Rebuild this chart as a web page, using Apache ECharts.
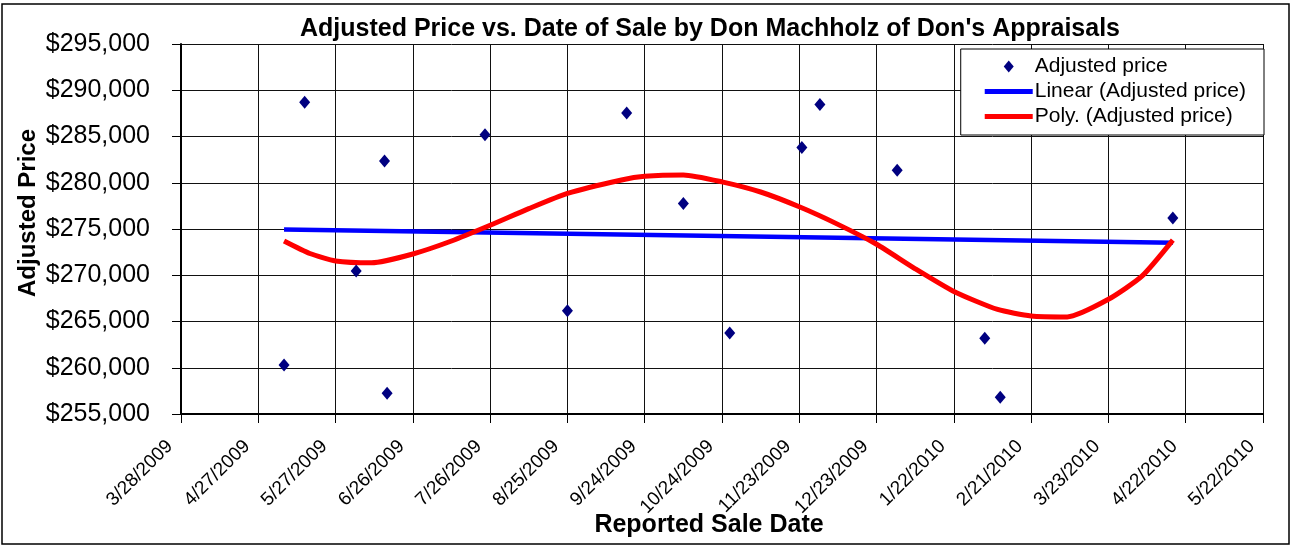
<!DOCTYPE html>
<html>
<head>
<meta charset="utf-8">
<title>Adjusted Price vs. Date of Sale</title>
<script src="https://cdn.jsdelivr.net/npm/echarts@6/dist/echarts.min.js"></script>
<style>
  html, body { margin: 0; padding: 0; background: #fff; }
  #chart { width: 1292px; height: 546px; }
</style>
</head>
<body>
<div id="chart"></div>
<script>
// sales
var saleDates = ['2009-05-07', '2009-05-15', '2009-06-04', '2009-06-15', '2009-06-16', '2009-07-24',
  '2009-08-25', '2009-09-17', '2009-10-09', '2009-10-27', '2009-11-24', '2009-12-01',
  '2009-12-31', '2010-02-03', '2010-02-09', '2010-04-17'];
var adjustedPrices = [260300, 288700, 270450, 282350, 257250, 285200,
  266150, 287550, 277750, 263750, 283800, 288450,
  281350, 263200, 256800, 276200];

// excel trendlines
var linearDates = ['2009-05-07', '2010-04-17'];
var linearValues = [274950, 273520];
var polyDates = ['2009-05-07', '2009-05-17', '2009-05-27', '2009-06-10', '2009-06-26', '2009-07-11',
  '2009-07-26', '2009-08-10', '2009-08-25', '2009-09-15', '2009-09-24', '2009-10-09',
  '2009-10-24', '2009-11-08', '2009-11-23', '2009-12-08', '2009-12-23', '2010-01-07',
  '2010-01-22', '2010-02-08', '2010-02-21', '2010-03-07', '2010-03-23', '2010-04-05', '2010-04-17'];
var polyValues = [273700, 272350, 271550, 271350, 272300, 273700,
  275400, 277200, 278850, 280300, 280700, 280850,
  280100, 279000, 277400, 275500, 273350, 270700,
  268250, 266300, 265600, 265500, 267400, 269900, 273800];

// axes
var dateAxisStart = '2009-03-28';
var dateAxisEnd = '2010-05-22';
var dateTickDays = 30;
var priceMin = 255000, priceMax = 295000, priceStep = 5000;

var FONT = '"Liberation Sans", Arial, sans-serif';
var EXCEL_EPOCH = Date.UTC(1899, 11, 30);

// excel style day number, so 30 day ticks land on 3/28/2009
function toSerial(s) {
  var p = s.split('-');
  return Math.round((Date.UTC(+p[0], p[1] - 1, +p[2]) - EXCEL_EPOCH) / 86400000);
}
function serialLabel(v) {
  var d = new Date(EXCEL_EPOCH + v * 86400000);
  return (d.getUTCMonth() + 1) + '/' + d.getUTCDate() + '/' + d.getUTCFullYear();
}
function pairs(dates, vals) {
  return dates.map(function(d, i) { return [toSerial(d), vals[i]]; });
}

var lineIcon = 'path://M0,0 L48,0 L48,5 L0,5 Z';
var diamondIcon = 'path://M5,0 L10,6 L5,12 L0,6 Z';

var chart = echarts.init(document.getElementById('chart'));
chart.setOption({
  animation: false,
  backgroundColor: '#fff',
  textStyle: { fontFamily: FONT },
  grid: { left: 181, right: 29, top: 44, bottom: 132 },
  xAxis: {
    type: 'value',
    min: toSerial(dateAxisStart),
    max: toSerial(dateAxisEnd),
    interval: dateTickDays,
    axisLine: { show: true, lineStyle: { color: '#000', width: 2 } },
    axisTick: { show: true, length: 9, lineStyle: { color: '#000' } },
    splitLine: { show: true, lineStyle: { color: '#111', width: 1 } },
    axisLabel: {
      rotate: 45, margin: 18, padding: [0, 16, 0, 0],
      fontSize: 19, color: '#000', fontFamily: FONT,
      showMinLabel: true, showMaxLabel: true,
      formatter: serialLabel
    }
  },
  yAxis: {
    type: 'value',
    min: priceMin, max: priceMax, interval: priceStep,
    axisLine: { show: true, lineStyle: { color: '#000', width: 2 } },
    axisTick: { show: true, length: 9, lineStyle: { color: '#000' } },
    splitLine: { show: true, lineStyle: { color: '#111', width: 1 } },
    axisLabel: {
      margin: 31, fontSize: 25, color: '#000', fontFamily: FONT,
      formatter: function(v) { return '$' + v.toLocaleString('en-US'); }
    }
  },
  legend: {
    orient: 'vertical',
    right: 28, top: 49,
    padding: [7, 18, 8, 24],
    itemWidth: 48, itemHeight: 12, itemGap: 4,
    symbolKeepAspect: true,
    backgroundColor: '#fff',
    borderColor: '#000', borderWidth: 1,
    textStyle: { fontSize: 21, color: '#000', fontFamily: FONT, padding: [0, 0, 0, -3] },
    data: [
      { name: 'Adjusted price', icon: diamondIcon },
      { name: 'Linear (Adjusted price)', icon: lineIcon },
      { name: 'Poly. (Adjusted price)', icon: lineIcon }
    ]
  },
  graphic: [
    { type: 'rect', z: -1, shape: { x: 2, y: 4, width: 1287, height: 540 },
      style: { fill: 'none', stroke: '#000', lineWidth: 1.5 } },
    { type: 'text', x: 710, y: 29,
      style: { text: "Adjusted Price vs. Date of Sale by Don Machholz of Don's Appraisals",
        font: 'bold 25px ' + FONT, fill: '#000', textAlign: 'center', textVerticalAlign: 'middle' } },
    { type: 'text', x: 709, y: 525,
      style: { text: 'Reported Sale Date', font: 'bold 25px ' + FONT, fill: '#000',
        textAlign: 'center', textVerticalAlign: 'middle' } },
    { type: 'text', x: 28, y: 213, rotation: Math.PI / 2,
      style: { text: 'Adjusted Price', font: 'bold 24px ' + FONT, fill: '#000',
        textAlign: 'center', textVerticalAlign: 'middle' } }
  ],
  series: [
    {
      name: 'Linear (Adjusted price)', type: 'line', symbol: 'none', z: 3,
      data: pairs(linearDates, linearValues),
      lineStyle: { color: '#0000ff', width: 4.5 }, itemStyle: { color: '#0000ff' }
    },
    {
      name: 'Poly. (Adjusted price)', type: 'line', symbol: 'none', smooth: 0.2, z: 4,
      data: pairs(polyDates, polyValues),
      lineStyle: { color: '#ff0000', width: 5 }, itemStyle: { color: '#ff0000' }
    },
    {
      name: 'Adjusted price', type: 'scatter', symbol: 'diamond', symbolSize: [11, 13], z: 5,
      data: pairs(saleDates, adjustedPrices),
      itemStyle: { color: '#000080', opacity: 1 }
    }
  ]
});
</script>
</body>
</html>
